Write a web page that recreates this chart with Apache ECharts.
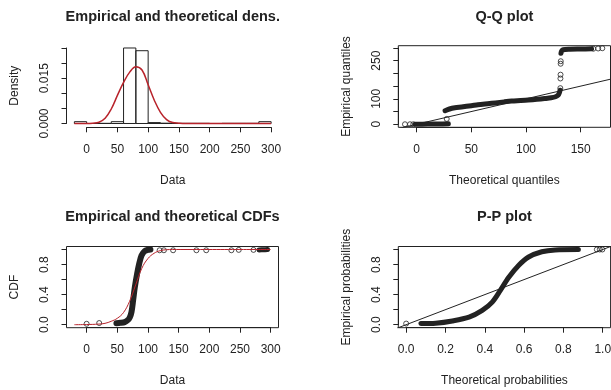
<!DOCTYPE html>
<html>
<head>
<meta charset="utf-8">
<script src="https://cdn.jsdelivr.net/npm/echarts@6/dist/echarts.min.js"></script>
<style>
  html, body { margin: 0; padding: 0; background: #fff; }
  #chart { width: 611px; height: 390px; }
</style>
</head>
<body>
<div id="chart"></div>
<script>
// ---------- values ----------

// histogram (density scale), bins of 20
const histBreaks = [-20, 0, 20, 40, 60, 80, 100, 120, 140, 160, 180, 200, 220, 240, 260, 280, 300];
const histDensity = [0.0006, 0, 0.00005, 0.0006, 0.0250, 0.0241, 0.0003, 0.0001, 0.00005, 0.00005, 0.00005, 0, 0.00005, 0.00005, 0.00005, 0.0006];

// fitted density (red curve)
const densX = [-20, 0, 10, 20, 30, 40, 50, 60, 70, 80, 90, 100, 110, 120, 130, 140, 150, 160, 200, 250, 300];
const densY = [0, 0, 0.0001, 0.0004, 0.0017, 0.0048, 0.0093, 0.0136, 0.0170, 0.0188, 0.0177, 0.0128, 0.0077, 0.0037, 0.0013, 0.0003, 0.0001, 0, 0, 0, 0];

// Q-Q plot
const qqLowX = [-10.7, -6.1, -3.1, 27.5];
const qqLowY = [0, 0, 0, 21];
const qqBand1X = [-1.5, 10, 20, 29];
const qqBand1Y = [0, 0.5, 1, 1.5];
const qqBand2X = [26, 30, 35, 41, 50, 56, 65, 72, 80, 87, 95, 102, 110, 117, 123, 127, 129.5, 130.5, 131.2];
const qqBand2Y = [53, 60, 65, 68, 73, 77, 81, 84, 88, 91, 93, 95, 98, 101, 104, 108, 115, 124, 134];
const qqMidX = [131.4, 131.5, 131.6, 131.7, 131.8];
const qqMidY = [142, 180, 195, 238, 248];
const qqBand3X = [132, 132.6, 134, 140, 150, 160];
const qqBand3Y = [279, 288, 293, 295, 296, 297];
const qqHighX = [161.6, 166, 169.8];
const qqHighY = [297, 298, 299];
const qqLine = [-20, 180];

// empirical and theoretical CDFs
const ecdfBandX = [48.6, 55, 62, 67, 70.5, 73.2, 75.9, 78.6, 82.4, 85.7, 89.5, 94.9, 100, 104];
const ecdfBandY = [0.02, 0.025, 0.035, 0.06, 0.10, 0.17, 0.33, 0.50, 0.68, 0.81, 0.92, 0.98, 0.995, 1.0];
const ecdfPtsX = [0, 20.5, 119, 126, 141, 179, 195, 236, 248, 272];
const ecdfPtsY = [0.012, 0.022, 0.99, 0.99, 0.99, 0.99, 0.99, 0.99, 0.995, 0.995];
const ecdfTopX = [281, 288, 295];
const ecdfTopY = [0.995, 0.997, 1.0];
const cdfX = [-20, 0, 20, 30, 40, 50, 60, 70, 80, 90, 100, 110, 120, 130, 140, 300];
const cdfY = [0, 0.002, 0.008, 0.018, 0.045, 0.085, 0.16, 0.31, 0.53, 0.75, 0.88, 0.95, 0.985, 0.997, 1, 1];

// P-P plot
const ppBandX = [0.075, 0.15, 0.235, 0.32, 0.387, 0.438, 0.48, 0.522, 0.573, 0.623, 0.69, 0.758, 0.876];
const ppBandY = [0.015, 0.02, 0.05, 0.10, 0.19, 0.30, 0.46, 0.63, 0.79, 0.90, 0.97, 0.995, 1.0];
const ppPtsX = [0, 0.97, 0.985, 0.998];
const ppPtsY = [0.015, 1, 1, 1];
const ppLine = [-0.1, 1.1];

// ---------- layout ----------
const FONT = '"Liberation Sans", Arial, sans-serif';
const INK = '#222';
const RED = '#b8232b';

const zip = (xs, ys) => xs.map((x, i) => [x, ys[i]]);

const panels = [
  { l: 66.5, r: 279, t: 44, b: 127.3, xlim: [-32.8, 312.8], ylim: [-0.00126, 0.02632],
    xt: [0, 300, 50], yt: [0, 0.025, 0.005], xDigits: 0, yDigits: 3, yShow: [0, 0.015], box: false,
    title: 'Empirical and theoretical dens.', xlab: 'Data', ylab: 'Density', cy: 0 },
  { l: 398.3, r: 610.5, t: 45.7, b: 127.3, xlim: [-16.8, 177.3], ylim: [-12, 309],
    xt: [0, 150, 50], yt: [0, 300, 50], xDigits: 0, yDigits: 0, yShow: [0, 100, 250], box: true,
    title: 'Q-Q plot', xlab: 'Theoretical quantiles', ylab: 'Empirical quantiles', cy: 0 },
  { l: 66.5, r: 278.5, t: 246.5, b: 327.7, xlim: [-32.8, 312.8], ylim: [-0.04, 1.04],
    xt: [0, 300, 50], yt: [0, 1, 0.2], xDigits: 0, yDigits: 1, yShow: [0, 0.4, 0.8], box: true,
    title: 'Empirical and theoretical CDFs', xlab: 'Data', ylab: 'CDF', cy: 200 },
  { l: 398.3, r: 610.6, t: 246.5, b: 327.7, xlim: [-0.04, 1.04], ylim: [-0.04, 1.04],
    xt: [0, 1, 0.2], yt: [0, 1, 0.2], xDigits: 1, yDigits: 1, yShow: [0, 0.4, 0.8], box: true,
    title: 'P-P plot', xlab: 'Theoretical probabilities', ylab: 'Empirical probabilities', cy: 200 }
];

const grids = [], xAxes = [], yAxes = [], graphics = [];
const hiddenAxis = (gridIndex, lim) => ({ type: 'value', gridIndex, min: lim ? lim[0] : null, max: lim ? lim[1] : null, show: false, splitLine: { show: false } });
const labelStyle = { fontSize: 12, fontFamily: FONT, color: INK };

function text(x, y, str, font, rot) {
  graphics.push({
    type: 'text', x, y, rotation: rot || 0, silent: true,
    style: { text: str, font, fill: INK, align: 'center', verticalAlign: 'middle', textAlign: 'center', textVerticalAlign: 'middle' }
  });
}

panels.forEach((p) => {
  const px = v => p.l + (v - p.xlim[0]) / (p.xlim[1] - p.xlim[0]) * (p.r - p.l);
  const py = v => p.b - (v - p.ylim[0]) / (p.ylim[1] - p.ylim[0]) * (p.b - p.t);
  const g = grids.length;

  // plot region
  grids.push({ left: p.l, top: p.t, width: p.r - p.l, height: p.b - p.t, show: p.box,
    borderColor: INK, borderWidth: 1, backgroundColor: 'transparent', containLabel: false, outerBoundsMode: 'none' });
  xAxes.push(hiddenAxis(g, p.xlim));
  yAxes.push(hiddenAxis(g, p.ylim));

  // x axis, drawn only from first to last tick
  const x0 = px(p.xt[0]), x1 = px(p.xt[1]);
  grids.push({ left: x0, top: p.b - 10, width: x1 - x0, height: 10, containLabel: false, outerBoundsMode: 'none' });
  xAxes.push({
    type: 'value', gridIndex: g + 1, position: 'bottom', min: p.xt[0], max: p.xt[1], interval: p.xt[2],
    axisLine: { show: true, lineStyle: { color: INK, width: 1 } },
    axisTick: { show: true, length: 5, lineStyle: { color: INK } },
    axisLabel: Object.assign({ margin: 16, formatter: v => v.toFixed(p.xDigits) }, labelStyle),
    splitLine: { show: false }
  });
  yAxes.push(hiddenAxis(g + 1));

  // y axis
  const y1 = py(p.yt[1]), y0 = py(p.yt[0]);
  grids.push({ left: p.l, top: y1, width: 10, height: y0 - y1, containLabel: false, outerBoundsMode: 'none' });
  xAxes.push(hiddenAxis(g + 2));
  yAxes.push({
    type: 'value', gridIndex: g + 2, position: 'left', min: p.yt[0], max: p.yt[1], interval: p.yt[2],
    axisLine: { show: true, lineStyle: { color: INK, width: 1 } },
    axisTick: { show: true, length: 5, lineStyle: { color: INK } },
    axisLabel: Object.assign({
      margin: 16, rotate: 90,
      formatter: v => p.yShow.some(s => Math.abs(s - v) < 1e-9) ? v.toFixed(p.yDigits) : ''
    }, labelStyle),
    splitLine: { show: false }
  });

  const cx = (p.l + p.r) / 2;
  text(cx, 17 + p.cy, p.title, 'bold 14.5px ' + FONT);
  text(cx, 181 + p.cy, p.xlab, '12px ' + FONT);
  text(p.l > 300 ? 346.7 : 15, (p.t + p.b) / 2, p.ylab, '12px ' + FONT, Math.PI / 2);
});

const circles = (name, xs, ys, axis) => ({
  name, type: 'scatter', xAxisIndex: axis, yAxisIndex: axis, data: zip(xs, ys),
  symbol: 'circle', symbolSize: 5, z: 4,
  itemStyle: { color: 'rgba(255,255,255,0)', borderColor: INK, borderWidth: 1 }
});
const band = (name, xs, ys, axis, width) => ({
  name, type: 'line', xAxisIndex: axis, yAxisIndex: axis, data: zip(xs, ys),
  showSymbol: false, smooth: 0.3, z: 3,
  lineStyle: { color: INK, width: width || 5, cap: 'round', join: 'round' }
});
const thin = (name, xs, ys, axis, color, smooth, width) => ({
  name, type: 'line', xAxisIndex: axis, yAxisIndex: axis, data: zip(xs, ys),
  showSymbol: false, smooth: smooth ? 0.4 : false, z: 5,
  lineStyle: { color, width: width || 1 }
});

const series = [
  {
    name: 'histogram', type: 'custom', xAxisIndex: 0, yAxisIndex: 0,
    data: histDensity.map((d, i) => [histBreaks[i], histBreaks[i + 1], d]),
    renderItem: (params, api) => {
      const a = api.coord([api.value(0), api.value(2)]);
      const b = api.coord([api.value(1), 0]);
      return { type: 'rect', shape: { x: a[0], y: a[1], width: b[0] - a[0], height: b[1] - a[1] },
        style: { fill: 'none', stroke: INK, lineWidth: 1 } };
    }
  },
  thin('density', densX, densY, 0, RED, true, 1.5),

  thin('qq line', qqLine, qqLine, 3, INK, false),
  band('qq low', qqBand1X, qqBand1Y, 3),
  band('qq mid', qqBand2X, qqBand2Y, 3),
  band('qq high', qqBand3X, qqBand3Y, 3),
  circles('qq pts low', qqLowX, qqLowY, 3),
  circles('qq pts mid', qqMidX, qqMidY, 3),
  circles('qq pts high', qqHighX, qqHighY, 3),

  band('ecdf', ecdfBandX, ecdfBandY, 6, 6),
  band('ecdf top', ecdfTopX, ecdfTopY, 6),
  circles('ecdf pts', ecdfPtsX, ecdfPtsY, 6),
  thin('cdf', cdfX, cdfY, 6, RED, true),

  thin('pp line', ppLine, ppLine, 9, INK, false),
  band('pp', ppBandX, ppBandY, 9),
  circles('pp pts', ppPtsX, ppPtsY, 9)
];

const chart = echarts.init(document.getElementById('chart'));
chart.setOption({
  animation: false,
  backgroundColor: '#fff',
  grid: grids,
  xAxis: xAxes,
  yAxis: yAxes,
  graphic: graphics,
  series
});
</script>
</body>
</html>
